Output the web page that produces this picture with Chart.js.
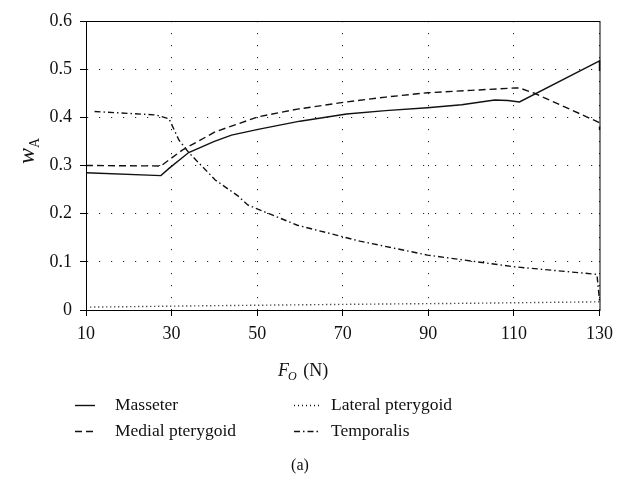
<!DOCTYPE html>
<html>
<head>
<meta charset="utf-8">
<script src="https://cdn.jsdelivr.net/npm/chart.js@4/dist/chart.umd.min.js"></script>
<style>
  html, body { margin: 0; padding: 0; background: #fff; }
  #wrap { width: 620px; height: 480px; }
</style>
</head>
<body>
<div id="wrap"><canvas id="chart" width="620" height="480"></canvas></div>
<script>
const xTicks = [10, 30, 50, 70, 90, 110, 130];

const masseterX = [10, 27.5, 29.4, 34, 40, 44, 50.2, 60, 70.9, 80, 89.8, 97.8, 105.5, 108.6, 111.3, 130, 130];
const masseterY = [0.285, 0.279, 0.294, 0.327, 0.350, 0.363, 0.375, 0.392, 0.407, 0.414, 0.420, 0.426, 0.436, 0.435, 0.432, 0.517, 0.496];

const medialX = [10, 27.5, 32.5, 40.2, 50.2, 59.4, 70.9, 80, 89.8, 100, 110.2, 111.3, 114.8, 130, 130];
const medialY = [0.300, 0.299, 0.332, 0.370, 0.401, 0.417, 0.432, 0.442, 0.451, 0.456, 0.461, 0.461, 0.450, 0.389, 0.374];

const lateralX = [11, 40, 74, 100, 130];
const lateralY = [0.006, 0.009, 0.012, 0.014, 0.017];

const temporalisX = [12, 26.3, 29.4, 31.7, 34, 40.2, 45.5, 47.8, 59.4, 74, 89.8, 109.8, 129.4, 130];
const temporalisY = [0.412, 0.405, 0.397, 0.353, 0.327, 0.270, 0.237, 0.218, 0.176, 0.143, 0.114, 0.090, 0.074, 0.020];

const seriesNames = ["Masseter", "Medial pterygoid", "Lateral pterygoid", "Temporalis"];

function points(xs, ys) {
  return xs.map((x, i) => ({ x, y: ys[i] }));
}

function lineSet(label, data, dash) {
  return {
    label,
    data,
    borderColor: "#111",
    borderWidth: 1.4,
    borderDash: dash,
    pointRadius: 0,
    fill: false,
    tension: 0,
    clip: false
  };
}

const serif = "'Liberation Serif', 'DejaVu Serif', serif";

const decorations = {
  id: "decorations",
  afterDraw(chart) {
    const ctx = chart.ctx;
    const a = chart.chartArea;
    ctx.save();
    // frame
    ctx.strokeStyle = "#000";
    ctx.lineWidth = 1;
    ctx.setLineDash([]);
    ctx.strokeRect(a.left + 0.5, a.top + 0.5, a.right - a.left, a.bottom - a.top);

    ctx.fillStyle = "#111";
    ctx.textBaseline = "alphabetic";

    // y title: w_A
    ctx.save();
    ctx.translate(34, 150);
    ctx.rotate(-Math.PI / 2);
    ctx.font = "italic 24px " + serif;
    ctx.textAlign = "left";
    const ww = ctx.measureText("w").width;
    ctx.fillText("w", -14, 0);
    ctx.font = "14px " + serif;
    ctx.fillText("A", -14 + ww, 5);
    ctx.restore();

    // x title: F_O (N)
    ctx.font = "italic 18px " + serif;
    ctx.textAlign = "left";
    let x = 278;
    ctx.fillText("F", x, 376);
    x += ctx.measureText("F").width;
    ctx.font = "italic 12px " + serif;
    ctx.fillText("O", x - 1, 380);
    x += ctx.measureText("O").width + 1;
    ctx.font = "18px " + serif;
    ctx.fillText(" (N)", x, 376);

    // legend
    const ds = chart.data.datasets;
    const slots = [
      { i: 0, x: 75, y: 405, w: 20, tx: 115 },
      { i: 2, x: 294, y: 405, w: 25, tx: 331 },
      { i: 1, x: 75, y: 431, w: 20, tx: 115 },
      { i: 3, x: 294, y: 431, w: 25, tx: 331 }
    ];
    ctx.font = "17.5px " + serif;
    ctx.textBaseline = "middle";
    slots.forEach(s => {
      const d = ds[s.i];
      ctx.beginPath();
      ctx.setLineDash(d.borderDash || []);
      ctx.lineWidth = d.borderWidth;
      ctx.strokeStyle = d.borderColor;
      ctx.moveTo(s.x, s.y + 0.5);
      ctx.lineTo(s.x + s.w, s.y + 0.5);
      ctx.stroke();
      ctx.setLineDash([]);
      ctx.fillText(d.label, s.tx, s.y);
    });

    // caption
    ctx.textAlign = "center";
    ctx.font = "16px " + serif;
    ctx.fillText("(a)", 300, 466);
    ctx.restore();
  }
};

new Chart(document.getElementById("chart"), {
  type: "line",
  data: {
    datasets: [
      lineSet(seriesNames[0], points(masseterX, masseterY), []),
      lineSet(seriesNames[1], points(medialX, medialY), [7, 4]),
      lineSet(seriesNames[2], points(lateralX, lateralY), [1, 3]),
      lineSet(seriesNames[3], points(temporalisX, temporalisY), [6, 3, 1.5, 3])
    ]
  },
  options: {
    responsive: false,
    animation: false,
    events: [],
    layout: { padding: { top: 21, right: 14, left: 0, bottom: 0 } },
    plugins: {
      legend: { display: false },
      tooltip: { enabled: false }
    },
    scales: {
      x: {
        type: "linear",
        min: 10,
        max: 130,
        afterBuildTicks(scale) {
          scale.ticks = xTicks.map(v => ({ value: v }));
        },
        afterFit(scale) {
          scale.height = 170;
        },
        grid: {
          color: "#222",
          lineWidth: 1,
          tickLength: 6,
          tickColor: "#000",
          tickBorderDash: []
        },
        border: { display: true, color: "#000", width: 1, dash: [1.2, 10.8] },
        ticks: {
          color: "#111",
          padding: 7,
          maxRotation: 0,
          font: { family: serif, size: 18 }
        }
      },
      y: {
        min: 0,
        max: 0.6,
        afterFit(scale) {
          scale.width = 86;
        },
        grid: {
          color: "#222",
          lineWidth: 1,
          tickLength: 6,
          tickColor: "#000",
          tickBorderDash: []
        },
        border: { display: true, color: "#000", width: 1, dash: [1.2, 10.8] },
        ticks: {
          stepSize: 0.1,
          color: "#111",
          padding: 8,
          font: { family: serif, size: 18 }
        }
      }
    }
  },
  plugins: [decorations]
});
</script>
</body>
</html>
